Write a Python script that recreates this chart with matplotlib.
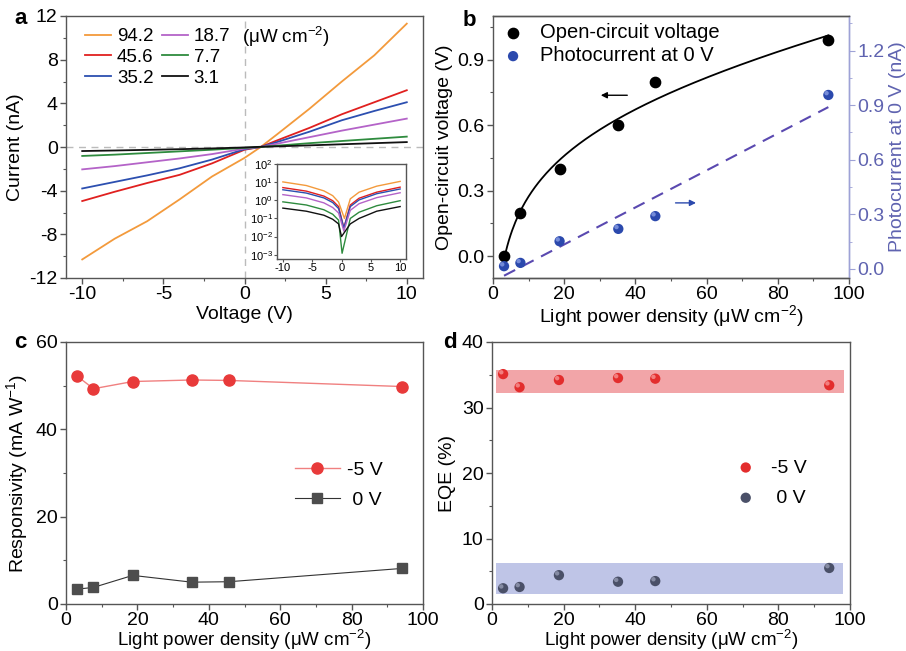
import numpy as np
import matplotlib.pyplot as plt
from matplotlib.ticker import AutoMinorLocator, NullLocator
from matplotlib.transforms import offset_copy

plt.rcParams['font.family'] = ['Liberation Sans', 'DejaVu Sans']
plt.rcParams['font.size'] = 14
plt.rcParams['mathtext.fontset'] = 'custom'
plt.rcParams['mathtext.rm'] = 'Liberation Sans'
plt.rcParams['mathtext.default'] = 'regular'
plt.rcParams['axes.unicode_minus'] = False
plt.rcParams['axes.edgecolor'] = '#555555'
plt.rcParams['axes.linewidth'] = 1.0
plt.rcParams['xtick.color'] = '#555555'
plt.rcParams['ytick.color'] = '#555555'
plt.rcParams['xtick.labelcolor'] = 'black'
plt.rcParams['ytick.labelcolor'] = 'black'

# ---- panel a: I-V curves ----
volt = [-10, -8, -6, -4, -2, 0, 1, 2, 4, 6, 8, 10]
powers = ['94.2', '45.6', '35.2', '18.7', '7.7', '3.1']
cur_942 = [-10.3, -8.4, -6.8, -4.8, -2.7, -1.0, 0.0, 1.15, 3.5, 6.0, 8.4, 11.3]
cur_456 = [-4.95, -4.1, -3.3, -2.55, -1.5, -0.25, 0.0, 0.6, 1.75, 3.0, 4.1, 5.2]
cur_352 = [-3.8, -3.2, -2.6, -1.95, -1.15, -0.2, 0.0, 0.45, 1.4, 2.45, 3.3, 4.1]
cur_187 = [-2.05, -1.75, -1.4, -1.05, -0.65, -0.15, 0.0, 0.3, 0.9, 1.5, 2.05, 2.6]
cur_77 = [-0.82, -0.7, -0.55, -0.4, -0.25, -0.08, 0.0, 0.12, 0.35, 0.55, 0.75, 0.95]
cur_31 = [-0.37, -0.32, -0.26, -0.2, -0.13, -0.04, 0.02, 0.06, 0.15, 0.25, 0.35, 0.45]
colors_a = ['#f39a3c', '#e0201f', '#2c4fb0', '#b463c8', '#2e8b3e', '#111111']

# inset: |I| on log scale (None = dip position, given per curve)
volt_in = [-10, -6, -3, -1.5, -0.5, None, 1.5, 3, 6, 10]
dip_v = [0.5, 0.4, 0.4, 0.4, 0.1, 0.0]
abs_942 = [10.3, 6.5, 3.3, 1.8, 0.8, 0.1, 1.2, 2.8, 6.0, 11.0]
abs_456 = [5.0, 3.2, 1.7, 0.95, 0.45, 0.03, 0.55, 1.3, 2.8, 5.3]
abs_352 = [3.8, 2.5, 1.35, 0.75, 0.35, 0.03, 0.45, 1.05, 2.3, 4.2]
abs_187 = [2.05, 1.35, 0.72, 0.4, 0.2, 0.02, 0.28, 0.65, 1.4, 2.6]
abs_77 = [0.82, 0.55, 0.3, 0.17, 0.08, 0.0012, 0.1, 0.22, 0.5, 0.95]
abs_31 = [0.37, 0.25, 0.15, 0.09, 0.05, 0.01, 0.05, 0.1, 0.25, 0.45]

# ---- panel b ----
density = [3.1, 7.7, 18.7, 35.2, 45.6, 94.2]
voc = [0.0, 0.2, 0.4, 0.6, 0.8, 0.99]
iph0 = [0.015, 0.033, 0.152, 0.22, 0.29, 0.956]

# ---- panel c ----
resp_m5 = [52.2, 49.3, 50.95, 51.3, 51.2, 49.8]
resp_0 = [3.4, 3.8, 6.55, 5.0, 5.1, 8.15]

# ---- panel d ----
eqe_m5 = [35.1, 33.1, 34.2, 34.5, 34.4, 33.4]
eqe_0 = [2.4, 2.6, 4.4, 3.4, 3.5, 5.5]
band_m5 = (32.2, 35.8)
band_0 = (1.6, 6.3)

W, H = 906, 651
fig = plt.figure(figsize=(W / 100, H / 100), dpi=100)


def px_axes(l, t, r, b):
    return fig.add_axes([l / W, 1 - b / H, (r - l) / W, (b - t) / H])


def fpos(x, y):
    return (x / W, 1 - y / H)


def style(ax):
    ax.tick_params(direction='out', length=4, width=1, pad=2)
    ax.tick_params(which='minor', direction='out', length=2, width=0.8)
    ax.xaxis.set_minor_locator(AutoMinorLocator(2))
    ax.yaxis.set_minor_locator(AutoMinorLocator(2))


def spheres(ax, x, y, col, hi, **kw):
    # shaded ball look: base dot + small highlight shifted to the upper left
    ax.scatter(x, y, s=55, color=col, edgecolor='none', zorder=3, **kw)
    tr = offset_copy(ax.transData, fig=fig, x=-1.3, y=1.3, units='points')
    ax.scatter(x, y, s=10, color=hi, edgecolor='none', alpha=0.75, zorder=4,
               transform=tr)


unit = '(\u03bcW cm$^{-2}$)'
xlab = 'Light power density ' + unit

# ---------------- a ----------------
ax = px_axes(66, 16, 423, 278)
style(ax)
ax.axhline(0, color='#bbbbbb', ls=(0, (5, 4)), lw=1)
ax.axvline(0, color='#bbbbbb', ls=(0, (5, 4)), lw=1)
curves = [cur_942, cur_456, cur_352, cur_187, cur_77, cur_31]
handles = []
for c, col, lab in zip(curves, colors_a, powers):
    h, = ax.plot(volt, c, color=col, lw=1.3, label=lab)
    handles.append(h)
ax.set_xlim(-11, 11)
ax.set_ylim(-12, 12)
ax.set_xticks([-10, -5, 0, 5, 10])
ax.set_yticks([-12, -8, -4, 0, 4, 8, 12])
ax.set_xlabel('Voltage (V)', labelpad=2)
ax.set_ylabel('Current (nA)', labelpad=4)
leg = ax.legend(handles=handles, ncol=2, frameon=False, loc='upper left',
                bbox_to_anchor=fpos(85, 28), bbox_transform=fig.transFigure,
                borderpad=0, borderaxespad=0, handlelength=1.4, handletextpad=0.3,
                columnspacing=0.45, labelspacing=0.2, fontsize=13.5)
fig.text(*fpos(242, 37), unit, fontsize=13.5, va='center')
fig.text(*fpos(14, 19), 'a', fontsize=16, fontweight='bold', va='center')

ins = px_axes(277, 164, 406, 259)
for vals, dv, col in zip([abs_942, abs_456, abs_352, abs_187, abs_77, abs_31],
                         dip_v, colors_a):
    vv = [dv if v is None else v for v in volt_in]
    ins.plot(vv, vals, color=col, lw=1)
ins.set_yscale('log')
ins.set_xlim(-11, 11)
ins.set_ylim(5.8e-4, 100)
ins.set_xticks([-10, -5, 0, 5, 10])
ins.set_yticks([1e-3, 1e-2, 1e-1, 1, 10, 100])
ins.yaxis.set_minor_locator(NullLocator())
ins.tick_params(labelsize=8, length=2, pad=1)

# ---------------- b ----------------
ax = px_axes(493, 16, 849, 278)
style(ax)
ax.spines['right'].set_color('#9ea2d6')
ax.scatter(density, voc, s=55, color='black', zorder=3, label='Open-circuit voltage')
# fit a*ln(x) + b*x + c to the Voc points
A = np.column_stack([np.log(density), density, np.ones(len(density))])
coef = np.linalg.lstsq(A, np.array(voc), rcond=None)[0]
xf = np.linspace(density[0], density[-1], 200)
ax.plot(xf, coef[0] * np.log(xf) + coef[1] * xf + coef[2], color='black', lw=1.3)
ax.set_xlim(0, 100)
ax.set_ylim(-0.1, 1.1)
ax.set_yticks([0.0, 0.3, 0.6, 0.9])
ax.set_yticklabels(['0.0', '0.3', '0.6', '0.9'])
ax.set_xlabel(xlab, labelpad=0)
ax.set_ylabel('Open-circuit voltage (V)', labelpad=3)
ax.annotate('', xy=(29.5, 0.737), xytext=(38.5, 0.737),
            arrowprops=dict(arrowstyle='-|>', color='black', lw=1, mutation_scale=9))
ax.annotate('', xy=(57.8, 0.244), xytext=(50.5, 0.244),
            arrowprops=dict(arrowstyle='-|>', color='#2b49ad', lw=1, mutation_scale=9))

ax2 = ax.twinx()
ax2.spines['right'].set_color('#9ea2d6')
ax2.spines['left'].set_visible(False)
spheres(ax2, density, iph0, '#2b49ad', '#8fa3e8', label='Photocurrent at 0 V')
p = np.polyfit(density, iph0, 1)
xl = np.array([density[0], density[-1]])
ax2.plot(xl, np.polyval(p, xl), color='#5a49b0', lw=1.5, ls=(0, (6, 4)))
ax2.set_ylim(-0.05, 1.39)
ax2.set_yticks([0.0, 0.3, 0.6, 0.9, 1.2])
ax2.set_yticklabels(['0.0', '0.3', '0.6', '0.9', '1.2'])
ax2.yaxis.set_minor_locator(AutoMinorLocator(2))
ax2.tick_params(axis='y', colors='#9ea2d6', labelcolor='#5f63b0', direction='out',
                length=4, pad=2)
ax2.tick_params(axis='y', which='minor', colors='#9ea2d6', length=2)
ax2.set_ylabel('Photocurrent at 0 V (nA)', color='#5f63b0', labelpad=3)
h1, l1 = ax.get_legend_handles_labels()
h2, l2 = ax2.get_legend_handles_labels()
ax.legend(h1 + h2, l1 + l2, frameon=False, loc='upper left',
          bbox_to_anchor=fpos(503, 23), bbox_transform=fig.transFigure,
          borderpad=0, borderaxespad=0, handlelength=1.0, handletextpad=0.85,
          labelspacing=0.22, fontsize=14.5, scatterpoints=1)
fig.text(*fpos(463, 21), 'b', fontsize=16, fontweight='bold', va='center')

# ---------------- c ----------------
ax = px_axes(66, 342, 423, 604)
style(ax)
ax.plot(density, resp_m5, color='#f08080', lw=1, marker='o', ms=8,
        mfc='#e83a3a', mec='#e83a3a', label='-5 V')
ax.plot(density, resp_0, color='#333333', lw=0.8, marker='s', ms=7,
        mfc='#4d4d4d', mec='#4d4d4d', label=' 0 V')
ax.set_xlim(0, 100)
ax.set_ylim(0, 60)
ax.set_xticks([0, 20, 40, 60, 80, 100])
ax.set_yticks([0, 20, 40, 60])
ax.set_xlabel(xlab, labelpad=-1, fontsize=13.5)
ax.set_ylabel('Responsivity (mA W$^{-1}$)', labelpad=4)
ax.legend(frameon=False, loc='upper left', bbox_to_anchor=fpos(295, 461),
          bbox_transform=fig.transFigure, borderpad=0, borderaxespad=0,
          handlelength=2.3, handletextpad=0.35, labelspacing=0.65, fontsize=14)
fig.text(*fpos(14, 343), 'c', fontsize=16, fontweight='bold', va='center')

# ---------------- d ----------------
ax = px_axes(492, 342, 850, 604)
style(ax)
ax.fill_between([1.2, 98.3], band_m5[0], band_m5[1], color='#f2a5a8', lw=0)
ax.fill_between([1.0, 98.1], band_0[0], band_0[1], color='#bfc5e7', lw=0)
spheres(ax, density, eqe_m5, '#e32d2d', '#f89a9a', label='-5 V')
spheres(ax, density, eqe_0, '#4a5068', '#9aa0b8', label=' 0 V')
ax.set_xlim(0, 100)
ax.set_ylim(0, 40)
ax.set_xticks([0, 20, 40, 60, 80, 100])
ax.set_yticks([0, 10, 20, 30, 40])
ax.set_xlabel(xlab, labelpad=-1, fontsize=13.5)
ax.set_ylabel('EQE (%)', labelpad=4)
ax.legend(frameon=False, loc='upper left', bbox_to_anchor=fpos(736, 459),
          bbox_transform=fig.transFigure, borderpad=0, borderaxespad=0,
          handlelength=1.0, handletextpad=0.8, labelspacing=0.65, fontsize=14,
          scatterpoints=1)
fig.text(*fpos(443, 343), 'd', fontsize=16, fontweight='bold', va='center')

fig.savefig('out.png', dpi=100, facecolor='white')
